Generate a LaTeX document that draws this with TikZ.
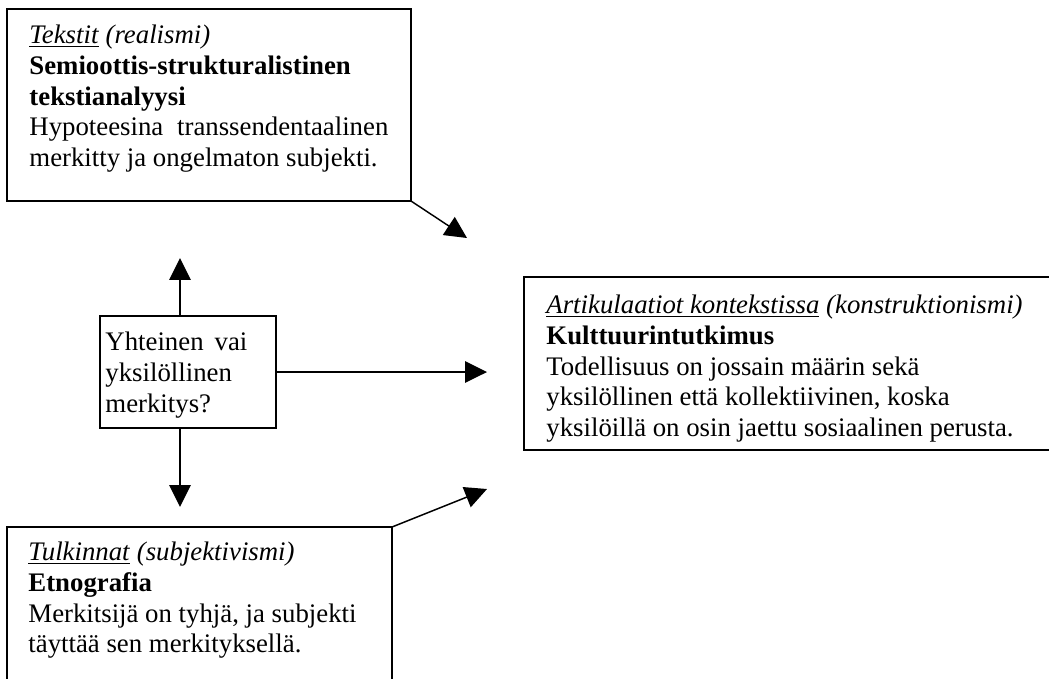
\documentclass[tikz,border=0pt]{standalone}
\usepackage{fontspec}
\setmainfont{Liberation Serif}
\usetikzlibrary{arrows.meta}
\begin{document}
\begin{tikzpicture}[x=0.448pt,y=-0.448pt,
  frame/.style 2 args={draw, line width=0.7pt, anchor=north west, inner sep=0pt,
    outer sep=0pt, minimum width=#1*0.448pt, minimum height=#2*0.448pt},
  boxtext/.style={anchor=north west, inner sep=0pt, align=left,
    font=\fontsize{12}{13.8}\selectfont},
  link/.style={line width=0.65pt, -{Triangle[length=9.8pt,width=9.6pt]}}]
\useasboundingbox (0,0) rectangle (1049,678);
\clip (0,0) rectangle (1049,678);

% frames
\node[frame={404}{192}] (tbox) at (7,9) {};
\node[frame={176}{112}] (cbox) at (100,316) {};
\node[frame={540}{173}] (rbox) at (524,277) {};
\node[frame={385}{170}] (bbox) at (7,527) {};

% texts
\node[boxtext] (ttext) at (29,21.4) {\strut\underline{\textit{Tekstit}} \textit{(realismi)}\\
  \textbf{Semioottis-strukturalistinen}\\
  \textbf{tekstianalyysi}\\
  \hbox to 160.8pt{Hypoteesina\hfill transsendentaalinen}\\
  merkitty ja ongelmaton subjekti.};
\node[boxtext] (ctext) at (105,328.4) {\strut\hbox to 63.6pt{Yhteinen\hfill vai}\\
  yksilöllinen\\
  merkitys?};
\node[boxtext] (rtext) at (546,291.4) {\strut\underline{\textit{Artikulaatiot kontekstissa}} \textit{(konstruktionismi)}\\
  \textbf{Kulttuurintutkimus}\\
  Todellisuus on jossain määrin sekä\\
  yksilöllinen että kollektiivinen, koska\\
  yksilöillä on osin jaettu sosiaalinen perusta.};
\node[boxtext] (btext) at (28,538.4) {\strut\underline{\textit{Tulkinnat}} \textit{(subjektivismi)}\\
  \textbf{Etnografia}\\
  Merkitsijä on tyhjä, ja subjekti\\
  täyttää sen merkityksellä.};

% arrow ends
\coordinate (tTip) at (467,238);
\coordinate (upTip) at (180,258);
\coordinate (rTip) at (487,372);
\coordinate (dnTip) at (180,507);
\coordinate (bTip) at (487,489);

% connectors
\draw[link] (tbox.south east) -- (tTip);
\draw[link] (cbox.north -| upTip) -- (upTip);
\draw[link] (cbox.east) -- (rTip);
\draw[link] (cbox.south -| dnTip) -- (dnTip);
\draw[link] (bbox.north east) -- (bTip);
\end{tikzpicture}
\end{document}
